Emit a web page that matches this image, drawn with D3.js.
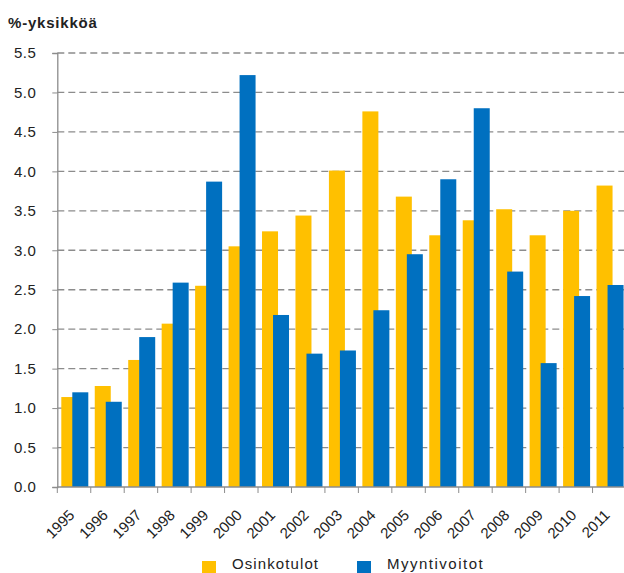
<!DOCTYPE html>
<meta charset="utf-8">
<script src="https://d3js.org/d3.v7.min.js"></script>
<style>
  body { margin: 0; background: #fff; }
  text { font-family: "Liberation Sans", Arial, sans-serif; fill: #222; }
</style>
<body>
<svg id="chart" width="624" height="573"></svg>
<script>
// data
var years = ["1995","1996","1997","1998","1999","2000","2001","2002","2003","2004","2005","2006","2007","2008","2009","2010","2011"];
var osinkotulot = [1.14,1.28,1.61,2.07,2.55,3.05,3.24,3.44,4.01,4.76,3.68,3.19,3.38,3.52,3.19,3.50,3.82];
var myyntivoitot = [1.20,1.08,1.90,2.59,3.87,5.22,2.18,1.69,1.73,2.24,2.95,3.90,4.80,2.73,1.57,2.42,2.56];
var yTicks = [0,0.5,1,1.5,2,2.5,3,3.5,4,4.5,5,5.5];
var seriesNames = ["Osinkotulot", "Myyntivoitot"];
var colors = ["#FFC000", "#0070C0"];

var svg = d3.select("#chart");
var mLeft = 57.3, mRight = 626, mTop = 53, mBottom = 487;

var x = d3.scaleBand().domain(years).range([mLeft, mRight]).padding(0);
var y = d3.scaleLinear().domain([0, 5.5]).range([mBottom, mTop]);

// gridlines
svg.append("g").selectAll("line")
  .data(yTicks.filter(function(d) { return d > 0; }))
  .enter().append("line")
    .attr("x1", mLeft).attr("x2", 624)
    .attr("y1", function(d) { return y(d); })
    .attr("y2", function(d) { return y(d); })
    .attr("stroke", "#8c8c8c")
    .attr("stroke-width", 1.3)
    .attr("stroke-dasharray", "7,4");

// y axis
var yAxis = svg.append("g")
  .attr("transform", "translate(" + mLeft + ",0)")
  .call(d3.axisLeft(y).tickValues(yTicks).tickFormat(d3.format(".1f")).tickSize(5).tickPadding(16));
yAxis.select(".domain").attr("stroke", "#8c8c8c").attr("stroke-width", 1.3);
yAxis.selectAll(".tick line").attr("stroke", "#8c8c8c");
yAxis.selectAll("text").style("font-size", "15px").style("letter-spacing", "0.5px").attr("fill", "#222");

// bars
var bw = 16, off = 4, shift = 11;
var bars = svg.append("g");
bars.selectAll(".y1").data(years).enter().append("rect")
  .attr("x", function(d) { return x(d) + off; })
  .attr("y", function(d, i) { return y(osinkotulot[i]); })
  .attr("width", bw)
  .attr("height", function(d, i) { return y(0) - y(osinkotulot[i]); })
  .attr("fill", colors[0]);
bars.selectAll(".y2").data(years).enter().append("rect")
  .attr("x", function(d) { return x(d) + off + shift; })
  .attr("y", function(d, i) { return y(myyntivoitot[i]); })
  .attr("width", bw)
  .attr("height", function(d, i) { return y(0) - y(myyntivoitot[i]); })
  .attr("fill", colors[1]);

// x axis
var xAxis = svg.append("g").attr("transform", "translate(0," + mBottom + ")");
xAxis.append("line").attr("x1", mLeft).attr("x2", 624)
  .attr("stroke", "#8c8c8c").attr("stroke-width", 1.3);
xAxis.selectAll(".tk").data(years.concat(["end"])).enter().append("line")
  .attr("x1", function(d, i) { return mLeft + i * x.bandwidth(); })
  .attr("x2", function(d, i) { return mLeft + i * x.bandwidth(); })
  .attr("y1", 0).attr("y2", 6)
  .attr("stroke", "#8c8c8c");
xAxis.selectAll(".lbl").data(years).enter().append("text")
  .attr("transform", function(d) {
    return "translate(" + (x(d) + x.bandwidth() / 2 + 1.5) + ",29) rotate(-45)";
  })
  .attr("text-anchor", "end")
  .style("font-size", "15px")
  .text(function(d) { return d; });

// title
svg.append("text")
  .attr("x", 8).attr("y", 28)
  .style("font-size", "15px")
  .style("font-weight", "bold")
  .style("letter-spacing", "0.8px")
  .attr("fill", "#333")
  .text("%-yksikköä");

// legend
var legendX = [202, 357];
var lg = svg.append("g");
seriesNames.forEach(function(name, i) {
  lg.append("rect").attr("x", legendX[i]).attr("y", 561).attr("width", 14).attr("height", 14)
    .attr("fill", colors[i]);
  lg.append("text").attr("x", legendX[i] + 30).attr("y", 569)
    .style("font-size", "15px")
    .style("letter-spacing", i === 0 ? "1.1px" : "1.5px")
    .text(name);
});
</script>
</body>
